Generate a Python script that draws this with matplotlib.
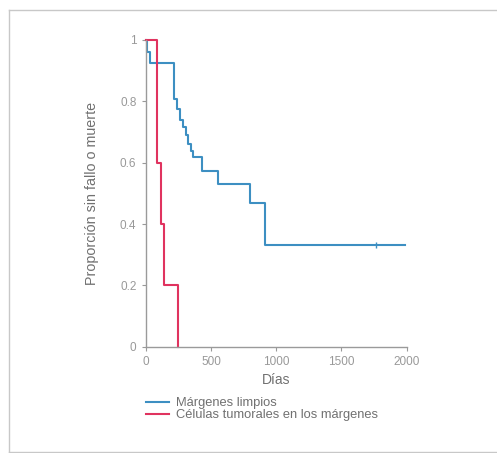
import matplotlib
matplotlib.use('Agg')
import matplotlib.pyplot as plt
from matplotlib.lines import Line2D

# curvas de Kaplan-Meier (dias, proporcion)
limpios_t = [0, 10, 30, 214, 235, 260, 286, 306, 324, 345, 362, 427, 554, 797, 912, 1985]
limpios_s = [1.0, 0.96, 0.924, 0.809, 0.776, 0.738, 0.716, 0.689, 0.661, 0.639, 0.617, 0.572, 0.53, 0.47, 0.333, 0.333]
censura_t = [1767]
censura_s = [0.333]

tumor_t = [0, 87, 118, 135, 247]
tumor_s = [1.0, 0.6, 0.4, 0.2, 0.0]

xticks = [0, 500, 1000, 1500, 2000]
yticks = [0, 0.2, 0.4, 0.6, 0.8, 1]
ylabels = ['0', '0.2', '0.4', '0.6', '0.8', '1']

azul = '#3d8fc2'
rojo = '#e0335f'

plt.rcParams['font.family'] = ['Liberation Sans', 'DejaVu Sans']

fig = plt.figure(figsize=(4.97, 4.53), dpi=100)
ax = fig.add_axes([0.294, 0.2347, 0.524, 0.677])

ax.step(limpios_t, limpios_s, where='post', color=azul, lw=1.5, clip_on=False)
ax.plot(censura_t, censura_s, marker='|', color=azul, ms=5, mew=1, ls='none')
ax.step(tumor_t, tumor_s, where='post', color=rojo, lw=1.5, clip_on=False)

ax.set_xlim(0, 2000)
ax.set_ylim(0, 1)
ax.set_xticks(xticks)
ax.set_yticks(yticks)
ax.set_yticklabels(ylabels)
ax.tick_params(direction='out', length=3, width=0.8, colors='#999999', labelsize=8.5, pad=4)
for s in ['top', 'right']:
    ax.spines[s].set_visible(False)
for s in ['left', 'bottom']:
    ax.spines[s].set_color('#9a9a9a')
    ax.spines[s].set_linewidth(1)

ax.set_xlabel('Días', fontsize=10, color='#707070', labelpad=3)
ax.set_ylabel('Proporción sin fallo o muerte', fontsize=10.3, color='#707070', labelpad=15)

manejadores = [Line2D([], [], color=azul, lw=1.5), Line2D([], [], color=rojo, lw=1.5)]
fig.legend(manejadores, ['Márgenes limpios', 'Células tumorales en los márgenes'],
           loc='upper left', bbox_to_anchor=(0.283, 0.135), frameon=False,
           fontsize=9.3, labelcolor='#707070', handlelength=1.8, handletextpad=0.5,
           labelspacing=0.0, borderaxespad=0)

# marco de la pagina escaneada
fig.add_artist(Line2D([0.018, 1.0], [0.978, 0.978], color='#c8c8c8', lw=1))
fig.add_artist(Line2D([0.018, 0.018], [0.003, 0.978], color='#c8c8c8', lw=1))
fig.add_artist(Line2D([0.018, 1.0], [0.003, 0.003], color='#c8c8c8', lw=1))

fig.savefig('out.png', dpi=100)
